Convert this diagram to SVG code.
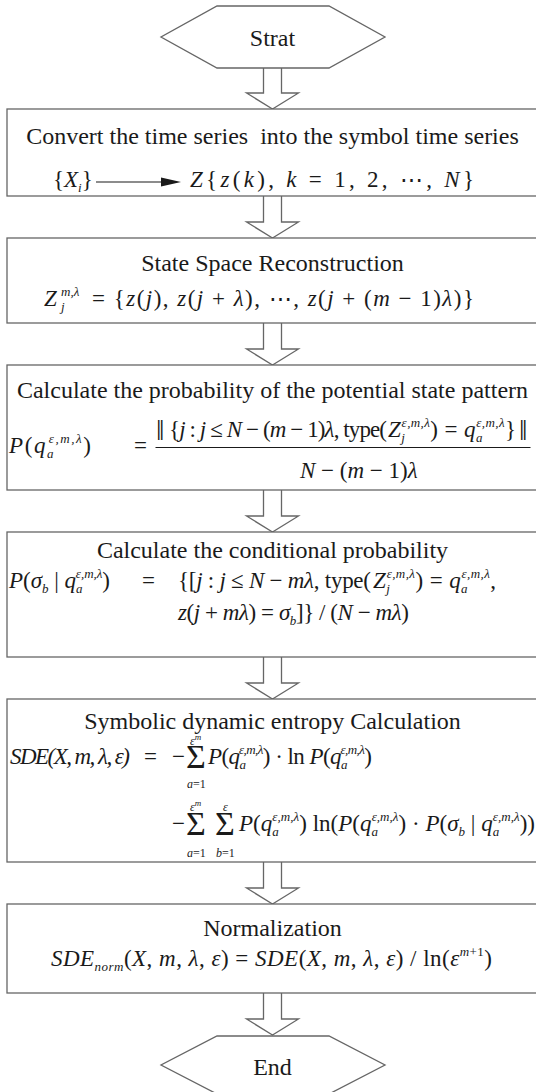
<svg xmlns="http://www.w3.org/2000/svg" width="536" height="1092" viewBox="0 0 536 1092">
<style>
.t{font-family:"Liberation Serif","Times New Roman",serif;font-size:24px;fill:#1a1a1a}
.f{font-size:23px}
.i{font-style:italic}
.s{font-size:13px}
.l{font-size:12px}
.m{text-anchor:middle}
.box{fill:#fff;stroke:#666;stroke-width:1.3}
.arr{fill:#fff;stroke:#666;stroke-width:1.3;stroke-linejoin:miter}
.ln{stroke:#1a1a1a;stroke-width:1.2}
.sum{font-family:"Liberation Serif","Times New Roman",serif;font-size:34px;fill:#1a1a1a}
.nrm{font-family:"Liberation Serif","DejaVu Serif",serif;font-size:30px;fill:#1a1a1a}
</style>
<rect width="536" height="1092" fill="#fff"/>
<g id="connectors">
<path class="arr" d="M263.5,68 V93 H246.5 L272.5,109 L298.5,93 H281.5 V68"/>
<path class="arr" d="M263.5,196 V222 H246.5 L272.5,238 L298.5,222 H281.5 V196"/>
<path class="arr" d="M263.5,323 V349 H246.5 L272.5,365 L298.5,349 H281.5 V323"/>
<path class="arr" d="M263.5,490 V516 H246.5 L272.5,532 L298.5,516 H281.5 V490"/>
<path class="arr" d="M263.5,657 V683 H246.5 L272.5,699 L298.5,683 H281.5 V657"/>
<path class="arr" d="M263.5,862 V888 H246.5 L272.5,904 L298.5,888 H281.5 V862"/>
<path class="arr" d="M263.5,993 V1019 H246.5 L272.5,1035 L298.5,1019 H281.5 V993"/>
</g>
<g id="start">
<polygon class="box" points="217,6 329,6 385,37 329,68 217,68 161,37"/>
<text class="t m" x="272.5" y="46">Strat</text>
</g>
<g id="convert">
<rect class="box" x="7" y="109" width="531" height="87"/>
<text class="t m" x="272.5" y="144" xml:space="preserve">Convert the time series  into the symbol time series</text>
<text class="t f" x="53" y="187">{<tspan class="i">X</tspan><tspan class="s i" dy="5">i</tspan><tspan dy="-5">}</tspan></text>
<line class="ln" x1="96" y1="182" x2="164" y2="182"/>
<polygon points="161,177.5 181,182 161,186.5" fill="#1a1a1a"/>
<text class="t f" x="190" y="187" textLength="284"><tspan class="i">Z</tspan>{<tspan class="i">z</tspan>(<tspan class="i">k</tspan>), <tspan class="i">k</tspan> = 1, 2, ⋯, <tspan class="i">N</tspan>}</text>
</g>
<g id="reconstruct">
<rect class="box" x="7" y="238" width="531" height="85"/>
<text class="t m" x="272.5" y="271">State Space Reconstruction</text>
<text class="t f i" x="44" y="306">Z</text>
<text class="t s i" x="61" y="296">m,λ</text>
<text class="t s i" x="61" y="311">j</text>
<text class="t f" x="92" y="306" textLength="382">= {<tspan class="i">z</tspan>(<tspan class="i">j</tspan>), <tspan class="i">z</tspan>(<tspan class="i">j</tspan> + <tspan class="i">λ</tspan>), ⋯, <tspan class="i">z</tspan>(<tspan class="i">j</tspan> + (<tspan class="i">m</tspan> − 1)<tspan class="i">λ</tspan>)}</text>
</g>
<g id="probability">
<rect class="box" x="7" y="365" width="531" height="125"/>
<text class="t m" x="272.5" y="398">Calculate the probability of the potential state pattern</text>
<text class="t f" x="9" y="453" textLength="82"><tspan class="i">P</tspan>(<tspan class="i">q</tspan><tspan class="s i" dy="5">a</tspan><tspan class="s i" dx="-6.5" dy="-15">ε,m,λ</tspan><tspan dy="10">)</tspan></text>
<text class="t f" x="134" y="453">=</text>
<line class="ln" x1="155.5" y1="447.5" x2="530.5" y2="447.5"/>
<text class="nrm" x="156" y="440">‖</text>
<text class="t f" x="169" y="437" textLength="218">{<tspan class="i">j</tspan> : <tspan class="i">j</tspan> ≤ <tspan class="i">N</tspan> − (<tspan class="i">m</tspan> − 1)<tspan class="i">λ</tspan>, type(</text>
<text class="t f" x="388" y="437" textLength="128"><tspan class="i">Z</tspan><tspan class="s i" dy="5">j</tspan><tspan class="s i" dx="-3.6" dy="-15">ε,m,λ</tspan><tspan dy="10">) = </tspan><tspan class="i">q</tspan><tspan class="s i" dy="5">a</tspan><tspan class="s i" dx="-6.5" dy="-15">ε,m,λ</tspan><tspan dy="10">}</tspan></text>
<text class="nrm" x="519" y="440">‖</text>
<text class="t f" x="300" y="478"><tspan class="i">N</tspan> − (<tspan class="i">m</tspan> − 1)<tspan class="i">λ</tspan></text>
</g>
<g id="conditional">
<rect class="box" x="7" y="532" width="531" height="125"/>
<text class="t m" x="272.5" y="558">Calculate the conditional probability</text>
<text class="t f" x="9" y="588" textLength="101"><tspan class="i">P</tspan>(<tspan class="i">σ</tspan><tspan class="s i" dy="5">b</tspan><tspan dy="-5"> | </tspan><tspan class="i">q</tspan><tspan class="s i" dy="5">a</tspan><tspan class="s i" dx="-6.5" dy="-15">ε,m,λ</tspan><tspan dy="10">)</tspan></text>
<text class="t f" x="142" y="588">=</text>
<text class="t f" x="178" y="588" textLength="193">{[<tspan class="i">j</tspan> : <tspan class="i">j</tspan> ≤ <tspan class="i">N</tspan> − <tspan class="i">mλ</tspan>, type(</text>
<text class="t f" x="373" y="588" textLength="123"><tspan class="i">Z</tspan><tspan class="s i" dy="5">j</tspan><tspan class="s i" dx="-3.6" dy="-15">ε,m,λ</tspan><tspan dy="10">) = </tspan><tspan class="i">q</tspan><tspan class="s i" dy="5">a</tspan><tspan class="s i" dx="-6.5" dy="-15">ε,m,λ</tspan><tspan dy="10">,</tspan></text>
<text class="t f" x="178" y="620" textLength="231"><tspan class="i">z</tspan>(<tspan class="i">j</tspan> + <tspan class="i">mλ</tspan>) = <tspan class="i">σ</tspan><tspan class="s i" dy="5">b</tspan><tspan dy="-5">]} / (</tspan><tspan class="i">N</tspan> − <tspan class="i">mλ</tspan>)</text>
</g>
<g id="sde">
<rect class="box" x="7" y="699" width="531" height="163"/>
<text class="t m" x="272.5" y="729">Symbolic dynamic entropy Calculation</text>
<text class="t f i" x="10" y="764" textLength="120">SDE(X, m, λ, ε)</text>
<text class="t f" x="144" y="764">=</text>
<text class="t f" x="172" y="764">−</text>
<text class="sum" x="186" y="768">Σ</text>
<text class="t l i" x="190" y="745">ε<tspan style="font-size:9px" dy="-5">m</tspan></text>
<text class="t l i" x="187" y="788">a<tspan font-style="normal">=1</tspan></text>
<text class="t f" x="208" y="764" textLength="164"><tspan class="i">P</tspan>(<tspan class="i">q</tspan><tspan class="s i" dy="5">a</tspan><tspan class="s i" dx="-6.5" dy="-15">ε,m,λ</tspan><tspan dy="10">) · ln </tspan><tspan class="i">P</tspan>(<tspan class="i">q</tspan><tspan class="s i" dy="5">a</tspan><tspan class="s i" dx="-6.5" dy="-15">ε,m,λ</tspan><tspan dy="10">)</tspan></text>
<text class="t f" x="172" y="831">−</text>
<text class="sum" x="186" y="835">Σ</text>
<text class="t l i" x="190" y="811">ε<tspan style="font-size:9px" dy="-5">m</tspan></text>
<text class="t l i" x="187" y="857">a<tspan font-style="normal">=1</tspan></text>
<text class="sum" x="215" y="835">Σ</text>
<text class="t l i" x="223" y="811">ε</text>
<text class="t l i" x="216" y="857">b<tspan font-style="normal">=1</tspan></text>
<text class="t f" x="239" y="831" textLength="296"><tspan class="i">P</tspan>(<tspan class="i">q</tspan><tspan class="s i" dy="5">a</tspan><tspan class="s i" dx="-6.5" dy="-15">ε,m,λ</tspan><tspan dy="10">) ln(</tspan><tspan class="i">P</tspan>(<tspan class="i">q</tspan><tspan class="s i" dy="5">a</tspan><tspan class="s i" dx="-6.5" dy="-15">ε,m,λ</tspan><tspan dy="10">) · </tspan><tspan class="i">P</tspan>(<tspan class="i">σ</tspan><tspan class="s i" dy="5">b</tspan><tspan dy="-5"> | </tspan><tspan class="i">q</tspan><tspan class="s i" dy="5">a</tspan><tspan class="s i" dx="-6.5" dy="-15">ε,m,λ</tspan><tspan dy="10">))</tspan></text>
</g>
<g id="normalize">
<rect class="box" x="7" y="904" width="531" height="89"/>
<text class="t m" x="272.5" y="936">Normalization</text>
<text class="t f" x="51" y="966" textLength="441"><tspan class="i">SDE</tspan><tspan class="s i" dy="5">norm</tspan><tspan dy="-5">(</tspan><tspan class="i">X</tspan>, <tspan class="i">m</tspan>, <tspan class="i">λ</tspan>, <tspan class="i">ε</tspan>) = <tspan class="i">SDE</tspan>(<tspan class="i">X</tspan>, <tspan class="i">m</tspan>, <tspan class="i">λ</tspan>, <tspan class="i">ε</tspan>) / ln(<tspan class="i">ε</tspan><tspan class="s" dy="-10"><tspan class="i">m</tspan>+1</tspan><tspan dy="10">)</tspan></text>
</g>
<g id="end">
<polygon class="box" points="217,1036 329,1036 385,1065 329,1094 217,1094 161,1065"/>
<text class="t m" x="272.5" y="1075">End</text>
</g>
</svg>
